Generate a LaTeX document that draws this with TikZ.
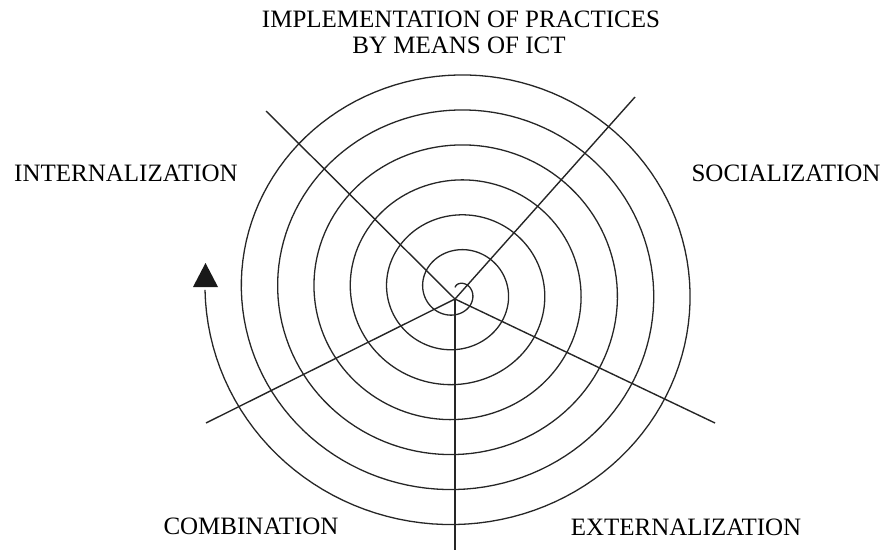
\documentclass[tikz,border=0pt]{standalone}
\usepackage{fontspec}
\setmainfont{Liberation Serif}
\begin{document}
\begin{tikzpicture}[x=1pt,y=-1pt,
  ink/.style={draw=black!85,line width=1.4pt},
  lbl/.style={font=\fontsize{25}{26}\selectfont,anchor=base,inner sep=0pt,text=black}]
\useasboundingbox (0,0) rectangle (885,556);
% hub and spoke ends
\coordinate (hub) at (455,299);
\coordinate (nw) at (266,111);
\coordinate (ne) at (635,97);
\coordinate (se) at (715,423);
\coordinate (sw) at (206,423);
\coordinate (s) at (455,550);
% spiral
\draw[ink,line width=1.3pt] plot[domain=40:2492,samples=900]
  ({456.6+36.35*(\x/360)*cos(151.7-\x)},{291-35*(\x/360)*sin(151.7-\x)});
\coordinate (tail) at (205,291);
% spokes
\foreach \e in {nw,ne,se,sw,s} \draw[ink] (hub) -- (\e);
% arrow head
\fill[black!90] (193,287) -- (218,287) -- (205.5,263) -- cycle;
% labels
\node[lbl] (t1) at (461,28) {IMPLEMENTATION OF PRACTICES};
\node[lbl] (t2) at (459,54) {BY MEANS OF ICT};
\node[lbl] (int) at (126,182) {INTERNALIZATION};
\node[lbl] (soc) at (786,182) {SOCIALIZATION};
\node[lbl] (com) at (251,534) {COMBINATION};
\node[lbl] (ext) at (686,535) {EXTERNALIZATION};
\end{tikzpicture}
\end{document}
